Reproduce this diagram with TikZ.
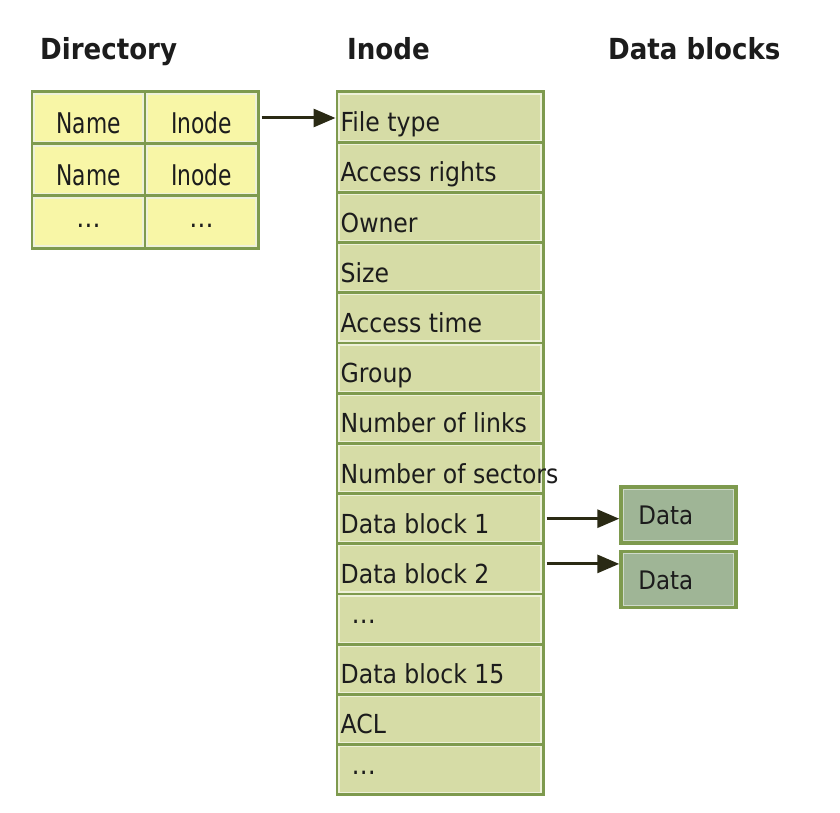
\documentclass[tikz,border=0pt]{standalone}
\usepackage{fontspec}
\setmainfont{DejaVu Sans}
\newfontfamily\cellfont{DejaVu Sans Condensed}
\newfontfamily\dirfont[FakeStretch=0.85]{DejaVu Sans Condensed}
\newfontfamily\headfont{DejaVu Sans Condensed Bold}
\usetikzlibrary{arrows.meta}
\definecolor{bordergreen}{HTML}{7E9A4E}
\definecolor{dirfill}{HTML}{F8F6A6}
\definecolor{inofill}{HTML}{D6DCA6}
\definecolor{datfill}{HTML}{9FB596}
\definecolor{innerline}{HTML}{EEF1D9}
\definecolor{txt}{HTML}{1C1C1C}
\definecolor{arrowc}{HTML}{2A2A14}
\tikzset{
  heading/.style={anchor=base west, inner sep=0pt, text=txt, font=\headfont\fontsize{29}{31}\selectfont},
  dircell/.style={draw=bordergreen, line width=3pt, fill=dirfill, minimum width=113pt, minimum height=52pt, inner sep=0pt},
  inocell/.style={draw=bordergreen, line width=3pt, fill=inofill, minimum width=206pt, minimum height=50.2pt, inner sep=0pt},
  datcell/.style={draw=bordergreen, line width=3.5pt, fill=datfill, minimum width=115pt, minimum height=56pt, inner sep=0pt},
  innerrect/.style={draw=innerline, line width=1.2pt},
  dirtext/.style={anchor=base, inner sep=0pt, text=txt, font=\dirfont\fontsize{28.5}{30}\selectfont},
  inotext/.style={anchor=base west, inner sep=0pt, text=txt, font=\cellfont\fontsize{26.2}{28}\selectfont},
  dattext/.style={anchor=base west, inner sep=0pt, text=txt, font=\cellfont\fontsize{25.5}{28}\selectfont},
  dots/.style={inner sep=0pt, text=txt, font=\cellfont\fontsize{27}{28}\selectfont},
  link/.style={draw=arrowc, line width=3pt, -{Triangle[length=22pt,width=18pt]}}
}
\begin{document}
\begin{tikzpicture}[x=1pt,y=-1pt]
\useasboundingbox[fill=white] (0,0) rectangle (840,813);
% headings
\node[heading] (hdir) at (40,60) {Directory};
\node[heading] (hino) at (347,60) {Inode};
\node[heading] (hdat) at (608,60) {Data blocks};
% directory table
\foreach \i in {0,1,2}{
  \node[dircell] (dn\i) at (88.5,118+52*\i) {};
  \node[dircell] (di\i) at (201.5,118+52*\i) {};
  \draw[innerrect] ([shift={(3.5,3.5)}]dn\i.north west) rectangle ([shift={(-3.5,-3.5)}]dn\i.south east);
  \draw[innerrect] ([shift={(3.5,3.5)}]di\i.north west) rectangle ([shift={(-3.5,-3.5)}]di\i.south east);
}
\node[dirtext] (tn0) at ([yshift=12pt]dn0.south) {Name};
\node[dirtext] (ti0) at ([yshift=12pt]di0.south) {Inode};
\node[dirtext] (tn1) at ([yshift=12pt]dn1.south) {Name};
\node[dirtext] (ti1) at ([yshift=12pt]di1.south) {Inode};
\node[dots, anchor=base] (tn2) at ([yshift=22pt]dn2.south) {…};
\node[dots, anchor=base] (ti2) at ([yshift=22pt]di2.south) {…};
% inode table
\foreach \i in {0,...,13}{
  \node[inocell] (c\i) at (440,117.1+50.2*\i) {};
  \draw[innerrect] ([shift={(3.5,3.5)}]c\i.north west) rectangle ([shift={(-3.5,-3.5)}]c\i.south east);
}
\foreach \t [count=\i from 0] in {File type, Access rights, Owner, Size, Access time, Group, Number of links, Number of sectors, Data block 1, Data block 2}{
  \node[inotext] (t\i) at ([xshift=5pt,yshift=12pt]c\i.south west) {\t};
}
\node[inotext] (t11) at ([xshift=5pt,yshift=12pt]c11.south west) {Data block 15};
\node[inotext] (t12) at ([xshift=5pt,yshift=13pt]c12.south west) {ACL};
\node[dots, anchor=base west] (t10) at ([xshift=16pt,yshift=22pt]c10.south west) {…};
\node[dots, anchor=base west] (t13) at ([xshift=16pt,yshift=22pt]c13.south west) {…};
% data blocks
\node[datcell] (d1) at (678.5,515) {};
\node[datcell] (d2) at (678.5,579.5) {};
\foreach \d in {d1,d2}{
  \draw[draw=white!50!datfill, line width=1.2pt] ([shift={(4,4)}]\d.north west) rectangle ([shift={(-4,-4)}]\d.south east);
}
\node[dattext] (td1) at ([xshift=19pt,yshift=20pt]d1.south west) {Data};
\node[dattext] (td2) at ([xshift=19pt,yshift=20pt]d2.south west) {Data};
% arrows
\coordinate (a0) at ([xshift=2pt]di0.east);
\draw[link] (a0) -- (a0 -| c0.west);
\coordinate (a1) at ([xshift=2pt]c8.east);
\draw[link] (a1) -- (a1 -| d1.west);
\coordinate (a2) at ([xshift=2pt,yshift=5pt]c9.east);
\draw[link] (a2) -- (a2 -| d2.west);
\end{tikzpicture}
\end{document}
